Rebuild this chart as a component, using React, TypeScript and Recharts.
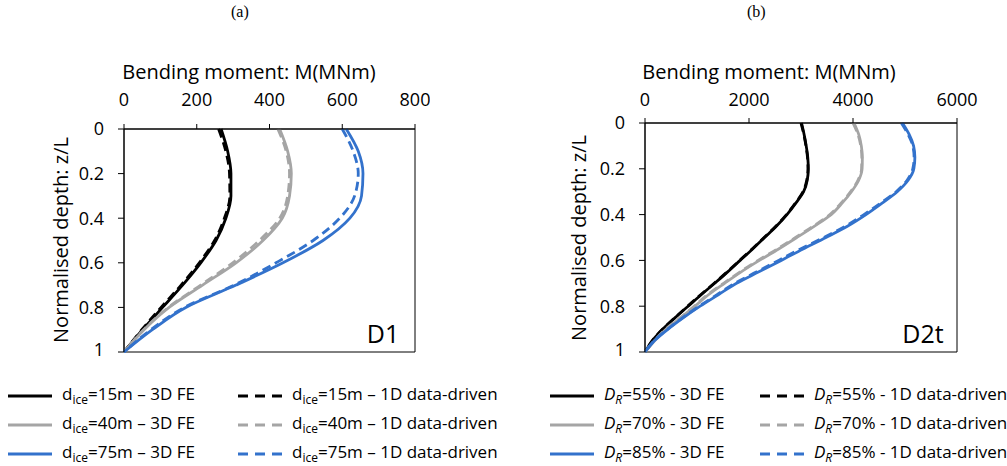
import React from "react";
import { LineChart, Line, XAxis, YAxis, ReferenceArea } from "recharts";

// normalised depth z/L
const depthA = [0, 0.1, 0.2, 0.3, 0.4, 0.5, 0.6, 0.7, 0.8, 0.9, 1];
const depthB = [
  0, 0.05, 0.1, 0.15, 0.2, 0.25, 0.3, 0.35, 0.4, 0.45, 0.5, 0.55, 0.6, 0.65, 0.7,
  0.75, 0.8, 0.85, 0.9, 0.95, 1,
];

// (a) D1, bending moment in MNm
const ice15Fe = [267, 285, 294, 294, 280, 253, 211, 161, 106, 51, 0];
const ice15Dd = [260, 280, 290, 291, 276, 249, 207, 157, 102, 49, 0];
const ice40Fe = [428, 450, 460, 455, 435, 382, 308, 216, 124, 55, 0];
const ice40Dd = [423, 446, 455, 450, 428, 372, 299, 211, 122, 54, 0];
const ice75Fe = [611, 644, 657, 653, 621, 547, 437, 308, 170, 78, 0];
const ice75Dd = [600, 630, 644, 634, 593, 520, 418, 303, 166, 74, 0];

// (b) D2t, bending moment in MNm
const dr55Fe = [3010, 3060, 3100, 3130, 3140, 3120, 3050, 2900, 2730, 2530, 2300, 2070, 1830, 1590, 1340, 1080, 830, 580, 345, 145, 0];
const dr55Dd = [3000, 3055, 3095, 3125, 3135, 3110, 3040, 2890, 2720, 2520, 2290, 2060, 1820, 1580, 1330, 1070, 820, 575, 340, 140, 0];
const dr70Fe = [4020, 4110, 4160, 4180, 4175, 4110, 3970, 3790, 3580, 3260, 2920, 2570, 2200, 1850, 1530, 1220, 960, 690, 410, 190, 0];
const dr70Dd = [4000, 4095, 4150, 4170, 4165, 4095, 3955, 3770, 3555, 3240, 2895, 2545, 2175, 1830, 1510, 1200, 945, 680, 400, 185, 0];
const dr85Fe = [4950, 5080, 5165, 5190, 5170, 5060, 4850, 4560, 4250, 3900, 3480, 3040, 2620, 2190, 1760, 1410, 1060, 740, 445, 185, 0];
const dr85Dd = [4930, 5060, 5150, 5175, 5150, 5040, 4830, 4530, 4210, 3860, 3440, 2990, 2570, 2150, 1725, 1385, 1040, 725, 435, 180, 0];

const depthTicks = [0, 0.2, 0.4, 0.6, 0.8, 1];
const ticksA = [0, 200, 400, 600, 800];
const ticksB = [0, 2000, 4000, 6000];

const iceCases = ["15m", "40m", "75m"];
const drCases = ["55%", "70%", "85%"];

const BLACK = "#000000";
const GRAY = "#a5a5a5";
const BLUE = "#3372cc";
const colors = [BLACK, GRAY, BLUE];

const FONT = "'Open Sans', sans-serif";

type Series = { key: string; values: number[]; color: string; dashed: boolean };

const seriesA: Series[] = [
  { key: "ice15Fe", values: ice15Fe, color: BLACK, dashed: false },
  { key: "ice15Dd", values: ice15Dd, color: BLACK, dashed: true },
  { key: "ice40Fe", values: ice40Fe, color: GRAY, dashed: false },
  { key: "ice40Dd", values: ice40Dd, color: GRAY, dashed: true },
  { key: "ice75Fe", values: ice75Fe, color: BLUE, dashed: false },
  { key: "ice75Dd", values: ice75Dd, color: BLUE, dashed: true },
];

const seriesB: Series[] = [
  { key: "dr55Fe", values: dr55Fe, color: BLACK, dashed: false },
  { key: "dr55Dd", values: dr55Dd, color: BLACK, dashed: true },
  { key: "dr70Fe", values: dr70Fe, color: GRAY, dashed: false },
  { key: "dr70Dd", values: dr70Dd, color: GRAY, dashed: true },
  { key: "dr85Fe", values: dr85Fe, color: BLUE, dashed: false },
  { key: "dr85Dd", values: dr85Dd, color: BLUE, dashed: true },
];

const buildRows = (depth: number[], series: Series[]) =>
  depth.map((z, i) => {
    const row: Record<string, number> = { z };
    series.forEach((s) => (row[s.key] = s.values[i]));
    return row;
  });

const dataA = buildRows(depthA, seriesA);
const dataB = buildRows(depthB, seriesB);

const tickStyle = { fontFamily: FONT, fontSize: 18, fill: "#000" };

interface PanelProps {
  data: Record<string, number>[];
  series: Series[];
  ticks: number[];
  left: number;
  width: number;
  xTickMargin: number;
  margin: { top: number; left: number; right: number; bottom: number };
}

const Panel = ({ data, series, ticks, left, width, xTickMargin, margin }: PanelProps) => {
  const xMax = ticks[ticks.length - 1];
  return (
    <div style={{ position: "absolute", left, top: 0 }}>
      <LineChart width={width} height={360} data={data} layout="vertical" margin={margin}>
        <XAxis
          type="number"
          orientation="top"
          domain={[0, xMax]}
          ticks={ticks}
          height={40}
          tickSize={5}
          tickMargin={xTickMargin}
          tick={tickStyle}
          stroke="#000"
        />
        <YAxis
          type="number"
          dataKey="z"
          domain={[0, 1]}
          ticks={depthTicks}
          width={60}
          tickSize={6}
          tickMargin={14}
          tick={tickStyle}
          stroke="#000"
        />
        <ReferenceArea x1={0} x2={xMax} y1={0} y2={1} fill="none" stroke="#000" strokeWidth={1} />
        {series.map((s) => (
          <Line
            key={s.key}
            dataKey={s.key}
            type="monotone"
            stroke={s.color}
            strokeWidth={2.8}
            strokeDasharray={s.dashed ? "9 5" : undefined}
            dot={false}
            isAnimationActive={false}
          />
        ))}
      </LineChart>
    </div>
  );
};

const abs = (x: number, y: number, extra: React.CSSProperties = {}): React.CSSProperties => ({
  position: "absolute",
  left: x,
  top: y,
  whiteSpace: "nowrap",
  ...extra,
});

const Sample = ({ color, dashed }: { color: string; dashed: boolean }) => (
  <svg width={44} height={10} style={{ position: "absolute", left: 0, top: -5 }}>
    <line x1={0} y1={5} x2={44} y2={5} stroke={color} strokeWidth={3} strokeDasharray={dashed ? "10 7" : undefined} />
  </svg>
);

const legendFont: React.CSSProperties = { fontFamily: FONT, fontSize: 17, color: "#000" };

const rowY = [396, 425, 454];

const IceLabel = ({ c, kind }: { c: string; kind: string }) => (
  <span>
    d<sub style={{ fontSize: 12 }}>ice</sub>={c} – {kind}
  </span>
);

const DrLabel = ({ c, kind }: { c: string; kind: string }) => (
  <span>
    <i>D</i>
    <sub style={{ fontSize: 12 }}>
      <i>R</i>
    </sub>
    ={c} - {kind}
  </span>
);

const LegendItem = ({ x, y, color, dashed, children }: { x: number; y: number; color: string; dashed: boolean; children: React.ReactNode }) => (
  <div style={abs(x, y)}>
    <Sample color={color} dashed={dashed} />
    <div style={{ ...legendFont, position: "absolute", left: 54, top: -13, lineHeight: "22px" }}>{children}</div>
  </div>
);

const titleStyle: React.CSSProperties = { fontFamily: FONT, fontSize: 20, lineHeight: "20px" };

export default function App() {
  return (
    <div style={{ position: "absolute", left: 0, top: 0, width: 1007, height: 466, background: "#fff", overflow: "hidden" }}>
      <div style={abs(231, 3, { fontFamily: "'Liberation Serif', serif", fontSize: 16 })}>(a)</div>
      <div style={abs(747, 3, { fontFamily: "'Liberation Serif', serif", fontSize: 16 })}>(b)</div>

      <div style={abs(249, 72, { ...titleStyle, transform: "translate(-50%, -50%)" })}>Bending moment: M(MNm)</div>
      <div style={abs(769, 72, { ...titleStyle, transform: "translate(-50%, -50%)" })}>Bending moment: M(MNm)</div>

      <div style={abs(61, 240, { ...titleStyle, transform: "translate(-50%, -50%) rotate(-90deg)" })}>
        Normalised depth: z/L
      </div>
      <div style={abs(579, 238, { ...titleStyle, transform: "translate(-50%, -50%) rotate(-90deg)" })}>
        Normalised depth: z/L
      </div>

      <Panel data={dataA} series={seriesA} ticks={ticksA} left={0} width={430} xTickMargin={18} margin={{ top: 89, left: 64, right: 15, bottom: 8 }} />
      <Panel data={dataB} series={seriesB} ticks={ticksB} left={520} width={487} xTickMargin={12} margin={{ top: 83, left: 65, right: 50, bottom: 8 }} />

      <div style={abs(383, 333, { fontFamily: FONT, fontSize: 25, transform: "translate(-50%, -50%)" })}>D1</div>
      <div style={abs(923, 333, { fontFamily: FONT, fontSize: 25, transform: "translate(-50%, -50%)" })}>D2t</div>

      {iceCases.map((c, i) => (
        <React.Fragment key={c}>
          <LegendItem x={8} y={rowY[i]} color={colors[i]} dashed={false}>
            <IceLabel c={c} kind="3D FE" />
          </LegendItem>
          <LegendItem x={238} y={rowY[i]} color={colors[i]} dashed={true}>
            <IceLabel c={c} kind="1D data-driven" />
          </LegendItem>
        </React.Fragment>
      ))}
      {drCases.map((c, i) => (
        <React.Fragment key={c}>
          <LegendItem x={550} y={rowY[i]} color={colors[i]} dashed={false}>
            <DrLabel c={c} kind="3D FE" />
          </LegendItem>
          <LegendItem x={760} y={rowY[i]} color={colors[i]} dashed={true}>
            <DrLabel c={c} kind="1D data-driven" />
          </LegendItem>
        </React.Fragment>
      ))}
    </div>
  );
}
